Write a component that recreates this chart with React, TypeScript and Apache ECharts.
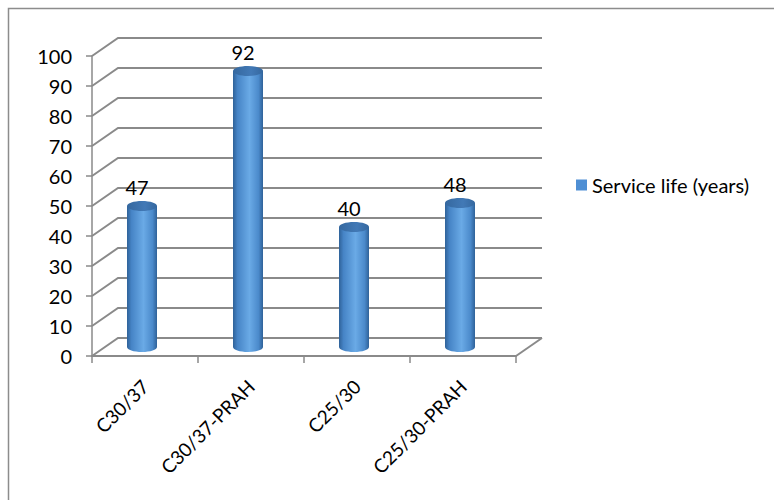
import React, { useEffect, useRef } from "react";
import * as echarts from "echarts";

const categories = ["C30/37", "C30/37-PRAH", "C25/30", "C25/30-PRAH"];
const serviceLife = [47, 92, 40, 48];
const yTicks = [0, 10, 20, 30, 40, 50, 60, 70, 80, 90, 100];
const seriesName = "Service life (years)";

const DEPTH_DX = 26;
const DEPTH_DY = -18;
const BAR_DX = -3;
const BAR_DY = -9;
const GRID_COLOR = "#8a8a8a";
const FONT = "Lato, 'Open Sans', sans-serif";

export default function App() {
  const ref = useRef<HTMLDivElement>(null);

  useEffect(() => {
    if (!ref.current) return;
    const chart = echarts.init(ref.current, null, { renderer: "svg" });

    const bodyGrad = () =>
      new echarts.graphic.LinearGradient(0, 0, 1, 0, [
        { offset: 0, color: "#2f6299" },
        { offset: 0.15, color: "#4684c6" },
        { offset: 0.55, color: "#6aaae6" },
        { offset: 0.85, color: "#4b8acb" },
        { offset: 1, color: "#2f6299" },
      ]);

    const option: any = {
      animation: false,
      backgroundColor: "#ffffff",
      textStyle: { fontFamily: FONT },
      grid: { left: 92, top: 56, width: 424, height: 300 },
      legend: {
        left: 571,
        top: 170,
        icon: "rect",
        itemWidth: 11,
        itemHeight: 11,
        itemGap: 6,
        textStyle: { fontSize: 20, color: "#000", fontFamily: FONT },
        data: [seriesName],
      },
      xAxis: {
        type: "category",
        data: categories,
        boundaryGap: true,
        axisLine: { show: true, lineStyle: { color: GRID_COLOR, width: 2 } },
        axisTick: { show: true, length: 7, interval: 0, lineStyle: { color: GRID_COLOR, width: 1.5 } },
        axisLabel: {
          interval: 0,
          rotate: 45,
          margin: 27,
          fontSize: 19,
          color: "#000",
          fontFamily: FONT,
        },
        splitLine: { show: false },
      },
      yAxis: {
        type: "value",
        min: 0,
        max: 100,
        interval: 10,
        axisLine: { show: true, lineStyle: { color: GRID_COLOR, width: 1.5 } },
        axisTick: { show: true, length: 6, lineStyle: { color: GRID_COLOR, width: 1.5 } },
        axisLabel: { margin: 20, fontSize: 20, color: "#000", fontFamily: FONT },
        splitLine: { show: false },
      },
      graphic: [
        {
          type: "rect",
          shape: { x: 8.5, y: 8.5, width: 900, height: 700 },
          style: { fill: "none", stroke: "#8c8c8c", lineWidth: 1.5 },
          silent: true,
        },
      ],
      series: [
        {
          type: "custom",
          name: "walls",
          clip: false,
          silent: true,
          data: yTicks.map((t) => [0, t]),
          encode: { x: 0, y: 1 },
          renderItem: (params: any, api: any) => {
            const v = api.value(1);
            const cs = params.coordSys;
            const L = cs.x;
            const R = cs.x + cs.width;
            const y = api.coord([0, v])[1];
            const children: any[] = [
              {
                type: "polyline",
                shape: {
                  points: [
                    [L, y],
                    [L + DEPTH_DX, y + DEPTH_DY],
                    [R + DEPTH_DX, y + DEPTH_DY],
                  ],
                },
                style: { stroke: GRID_COLOR, lineWidth: 2, fill: "none" },
              },
            ];
            if (v === 0) {
              children.push({
                type: "line",
                shape: { x1: R, y1: y, x2: R + DEPTH_DX, y2: y + DEPTH_DY },
                style: { stroke: GRID_COLOR, lineWidth: 2 },
              });
            }
            return { type: "group", children };
          },
          z: 1,
        },
        {
          type: "custom",
          name: seriesName,
          clip: false,
          itemStyle: { color: "#4f8fd4" },
          data: serviceLife.map((v, i) => [i, v]),
          encode: { x: 0, y: 1 },
          renderItem: (params: any, api: any) => {
            const idx = api.value(0);
            const v = api.value(1);
            const top = api.coord([idx, v]);
            const base = api.coord([idx, 0]);
            const cx = top[0] + BAR_DX;
            const ty = top[1] + BAR_DY;
            const by = base[1] + BAR_DY;
            const rx = 15;
            const ry = 5;
            return {
              type: "group",
              children: [
                {
                  type: "ellipse",
                  shape: { cx, cy: by, rx, ry },
                  style: { fill: bodyGrad() },
                },
                {
                  type: "rect",
                  shape: { x: cx - rx, y: ty, width: 2 * rx, height: by - ty },
                  style: { fill: bodyGrad() },
                },
                {
                  type: "ellipse",
                  shape: { cx, cy: ty, rx, ry },
                  style: {
                    fill: new echarts.graphic.LinearGradient(0, 0, 1, 0, [
                      { offset: 0, color: "#35689f" },
                      { offset: 0.6, color: "#4279b6" },
                      { offset: 1, color: "#35689f" },
                    ]),
                  },
                },
                {
                  type: "text",
                  x: cx - 5,
                  y: ty - 19,
                  style: {
                    text: String(v),
                    align: "center",
                    verticalAlign: "middle",
                    fontSize: 20,
                    fontFamily: FONT,
                    fill: "#000",
                  },
                },
              ],
            };
          },
          z: 2,
        },
      ],
    };

    chart.setOption(option);
    return () => chart.dispose();
  }, []);

  return (
    <div
      ref={ref}
      style={{ position: "absolute", left: 0, top: 0, width: 774, height: 500 }}
    />
  );
}
